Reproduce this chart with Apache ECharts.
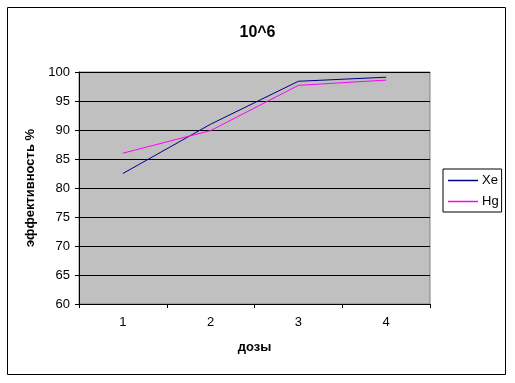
<!DOCTYPE html>
<html><head><meta charset="utf-8">
<script src="https://cdn.jsdelivr.net/npm/echarts@6/dist/echarts.min.js"></script>
<style>html,body{margin:0;padding:0;background:#fff}#c{width:515px;height:383px}</style>
</head><body><div id="c"></div>
<script>
const categories = ['1', '2', '3', '4'];
const xeValues = [82.5, 91.0, 98.4, 99.1];
const hgValues = [86.0, 89.9, 97.7, 98.6];
const yTicks = {min: 60, max: 100, interval: 5};

const chart = echarts.init(document.getElementById('c'), null, {renderer: 'canvas'});
const F = 'Liberation Sans, Arial, sans-serif';
chart.setOption({
  backgroundColor: '#fff',
  animation: false,
  title: {text: '10^6', left: 'center', top: 20, textStyle: {fontFamily: F, fontSize: 16, fontWeight: 'bold', color: '#000'}},
  graphic: [{type: 'rect', shape: {x: 7.5, y: 7.5, width: 498, height: 367}, style: {fill: 'none', stroke: '#000', lineWidth: 1}, silent: true, z: -1}],
  legend: {
    orient: 'vertical', left: 443, top: 169,
    borderColor: '#000', borderWidth: 1, padding: [5, 3, 4, 5],
    itemWidth: 30, itemHeight: 1.5, itemGap: 8, icon: 'rect',
    textStyle: {fontFamily: F, fontSize: 13, color: '#000', padding: [0, 0, 0, -1]},
    data: ['Xe', 'Hg']
  },
  grid: {left: 79, right: 85, top: 72, bottom: 79, show: true, backgroundColor: '#C0C0C0', borderColor: '#808080', borderWidth: 1},
  xAxis: {
    type: 'category', data: categories, boundaryGap: true,
    name: 'дозы', nameLocation: 'middle', nameGap: 37,
    nameTextStyle: {fontFamily: F, fontSize: 13, fontWeight: 'bold', color: '#000'},
    axisLine: {lineStyle: {color: '#000', width: 1}},
    axisTick: {show: true, length: 4, alignWithLabel: false, lineStyle: {color: '#000'}},
    axisLabel: {fontFamily: F, fontSize: 13, color: '#000', margin: 12},
    splitLine: {show: false}
  },
  yAxis: {
    type: 'value', min: yTicks.min, max: yTicks.max, interval: yTicks.interval,
    name: 'эффективность %', nameLocation: 'middle', nameGap: 41, nameRotate: 90,
    nameTextStyle: {fontFamily: F, fontSize: 13, fontWeight: 'bold', color: '#000'},
    axisLine: {show: true, lineStyle: {color: '#000', width: 1}},
    axisTick: {show: true, length: 4, lineStyle: {color: '#000'}},
    axisLabel: {fontFamily: F, fontSize: 13, color: '#000', margin: 9},
    splitLine: {show: true, lineStyle: {color: '#000', width: 1}}
  },
  series: [
    {name: 'Xe', type: 'line', data: xeValues, symbol: 'none', color: '#000080', lineStyle: {width: 1, color: '#000080'}},
    {name: 'Hg', type: 'line', data: hgValues, symbol: 'none', color: '#FF00FF', lineStyle: {width: 1, color: '#FF00FF'}}
  ]
});
</script></body></html>
